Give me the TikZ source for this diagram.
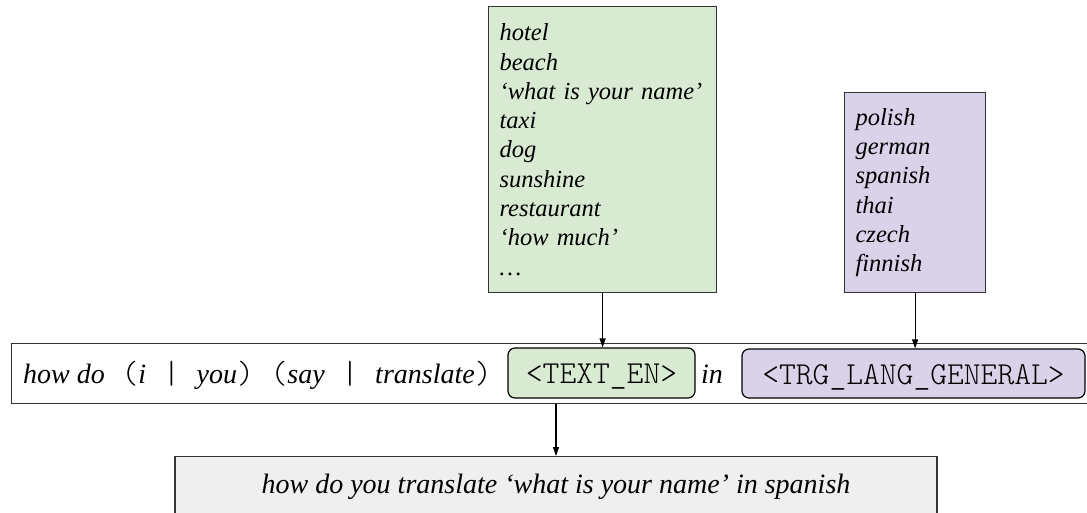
\documentclass[tikz,border=0pt]{standalone}
\usepackage{fontspec}
\setmainfont{Liberation Serif}
\setmonofont{Latin Modern Mono Light}
\usepackage{xcolor}
\usetikzlibrary{arrows.meta}
\definecolor{wordgreen}{HTML}{D9EAD3}
\definecolor{langpurple}{HTML}{D9D2E9}
\definecolor{outgray}{HTML}{EFEFEF}
\definecolor{edgegray}{HTML}{333333}

\newcommand{\mono}[1]{{\fontsize{32}{32}\selectfont\ttfamily #1}}

\tikzset{
  listbox/.style={draw=edgegray, line width=1.2pt, anchor=north west, align=left,
    inner xsep=11pt, font=\fontsize{24.5}{29.3}\selectfont\itshape},
  slotbox/.style={draw=black, line width=1.2pt, rounded corners=7pt, inner sep=0pt,
    text height=21pt, text depth=0pt, font=\fontsize{32}{32}\selectfont\ttfamily},
  bartext/.style={inner sep=0pt, anchor=base west, font=\fontsize{28}{30}\selectfont},
  link/.style={-{Triangle[length=9pt,width=6pt]}, line width=1.1pt}
}

\begin{document}
\begin{tikzpicture}[x=1pt, y=-1pt]
    \useasboundingbox (0,0) rectangle (1087,512);

    % Word list and language list
    \node[listbox, fill=wordgreen, text width=206pt, minimum height=286pt] (words) at (488,6)
      {hotel\\beach\\`what is your name'\\taxi\\dog\\sunshine\\restaurant\\`how much'\\\ldots};
    \node[listbox, fill=langpurple, text width=119pt, minimum height=200pt] (langs) at (844,92)
      {polish\\german\\spanish\\thai\\czech\\finnish};

    % Template bar
    \node[draw=edgegray, line width=1.2pt, anchor=north west, minimum width=1084pt, minimum height=60pt] (tmpl) at (11,343) {};
    \node[bartext] (pattern) at (23,383)
      {\textit{how do}\mono{ (}\textit{i}\mono{ | }\textit{you}\mono{) (}\textit{say}\mono{ | }\textit{translate}\mono{)}};
    \node[slotbox, fill=wordgreen, minimum width=187pt, minimum height=50pt] (slotA) at (601.5,373) {<TEXT\_EN>};
    \node[bartext] (inword) at (701,383) {\itshape in};
    \node[slotbox, fill=langpurple, minimum width=343pt, minimum height=49pt] (slotB) at (913.5,373.5) {<TRG\_LANG\_GENERAL>};

    % Generated sentence
    \node[draw=edgegray, fill=outgray, line width=1.2pt, anchor=north, minimum width=762pt, minimum height=60pt,
      font=\fontsize{28}{30}\selectfont\itshape] (result) at (556,456)
      {how do you translate `what is your name' in spanish};

    % Arrows
    \draw[link] (words.south) -- (words.south |- slotA.north);
    \draw[link] (langs.south) -- (langs.south |- slotB.north);
    \draw[link] (result.north |- tmpl.south) -- (result.north);
\end{tikzpicture}
\end{document}
